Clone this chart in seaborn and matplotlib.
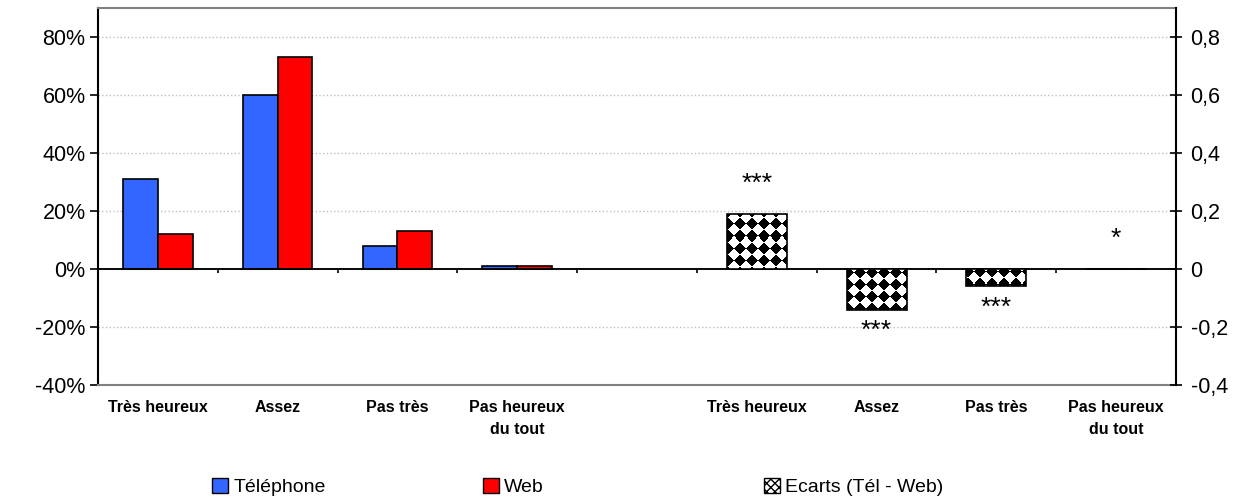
import numpy as np
import pandas as pd
import seaborn as sns
import matplotlib.pyplot as plt
from matplotlib.patches import Patch

# data
reponses = ['Très heureux', 'Assez', 'Pas très', 'Pas heureux\ndu tout']
telephone = [0.31, 0.60, 0.08, 0.012]
web = [0.12, 0.73, 0.13, 0.012]
ecarts = [0.19, -0.14, -0.06, 0.0]
signif = ['***', '***', '***', '*']

# 9 slots: 4 modes, one blank, 4 ecarts
left_slots = reponses
right_slots = [r + ' ' for r in reponses]
slots = left_slots + ['  '] + right_slots

sns.set_style('white')
plt.rcParams['font.family'] = ['Liberation Sans', 'DejaVu Sans']
plt.rcParams['text.color'] = 'black'
plt.rcParams['xtick.color'] = 'black'
plt.rcParams['ytick.color'] = 'black'
plt.rcParams['xtick.labelcolor'] = 'black'
plt.rcParams['ytick.labelcolor'] = 'black'

fig = plt.figure(figsize=(12.46, 5), dpi=100)
ax = fig.add_axes([98 / 1246, 115 / 500, 1078 / 1246, 377 / 500])

df_mode = pd.DataFrame({
    'cat': left_slots * 2,
    'mode': ['Téléphone'] * 4 + ['Web'] * 4,
    'val': telephone + web,
})
sns.barplot(data=df_mode, x='cat', y='val', hue='mode', order=slots,
            palette={'Téléphone': '#3366FF', 'Web': '#FF0000'}, saturation=1,
            width=0.58, edgecolor='black', linewidth=1.2, errorbar=None,
            legend=False, ax=ax)

ax2 = ax.twinx()
df_ecart = pd.DataFrame({'cat': right_slots, 'val': ecarts})
sns.barplot(data=df_ecart, x='cat', y='val', order=slots, color='white',
            saturation=1, width=0.5, edgecolor='black', linewidth=1.2,
            errorbar=None, ax=ax2)

# diamond checker pattern inside the ecart bars
W, H = 1078, 377
yy, xx = np.mgrid[0:H, 0:W]
checker = (((xx + yy) // 12 + (xx - yy) // 12) % 2).astype(float)
for p in list(ax2.patches):
    p.set_facecolor('none')
    p.set_zorder(3)
    im = ax2.imshow(checker, cmap='gray', vmin=0, vmax=1, extent=(0, 1, 0, 1),
                    transform=ax2.transAxes, interpolation='nearest',
                    aspect='auto', zorder=2.5)
    im.set_clip_path(p)

for i, (v, s) in enumerate(zip(ecarts, signif)):
    y = v + 0.105 if v >= 0 else v - 0.075
    ax2.text(5 + i, y, s, ha='center', va='center', fontsize=19, color='black')

yticks = np.arange(-0.4, 0.81, 0.2)
for a in (ax, ax2):
    a.set_ylim(-0.4, 0.9)
    a.set_xlim(-0.5, 8.5)
    a.set_xlabel('')
    a.set_ylabel('')
    a.set_yticks(yticks)

ax.set_yticklabels([f'{round(v * 100):d}%' for v in yticks])
ax2.set_yticklabels(['0' if abs(v) < 1e-9 else f'{v:.1f}'.replace('.', ',') for v in yticks])
ax.set_xticks(range(9))
ax.set_xticklabels(reponses + [''] + reponses, fontsize=11.5, fontweight='bold',
                   linespacing=1.55)

ax.tick_params(axis='y', direction='out', length=6, width=1.2, pad=3,
               labelsize=15.5, left=True, colors='black')
ax.tick_params(axis='x', length=0, pad=11, colors='black')
ax2.tick_params(axis='y', direction='inout', length=9, width=1.2, pad=6,
                labelsize=15.5, right=True, colors='black')

ax.set_axisbelow(True)
ax.yaxis.grid(True, color='#BFBFBF', linestyle=':', linewidth=1)
ax.axhline(0, color='black', linewidth=1.2, zorder=4)

# small category ticks on the zero line
secax = ax.secondary_xaxis(0.4 / 1.3)
secax.set_xticks(np.arange(0.5, 8, 1))
secax.set_xticklabels([])
secax.tick_params(axis='x', direction='out', length=3, width=1.2, colors='black')
secax.spines['bottom'].set_linewidth(1.2)
secax.spines['bottom'].set_color('black')

ax.spines['left'].set_color('black')
ax.spines['left'].set_linewidth(1.5)
for name in ('top', 'bottom'):
    ax.spines[name].set_color('#808080')
    ax.spines[name].set_linewidth(1.5)
ax.spines['right'].set_visible(False)
for name in ('left', 'top', 'bottom'):
    ax2.spines[name].set_visible(False)
ax2.spines['right'].set_color('black')
ax2.spines['right'].set_linewidth(1.5)

handles = [Patch(facecolor='#3366FF', edgecolor='black'),
           Patch(facecolor='#FF0000', edgecolor='black'),
           Patch(facecolor='white', edgecolor='black', hatch='xxxx')]
labels = ['Téléphone', 'Web', 'Ecarts (Tél - Web)']
for h, lab, x in zip(handles, labels, [212, 483, 764]):
    fig.legend([h], [lab], loc='center left', bbox_to_anchor=(x / 1246, 0.026),
               frameon=False, handlelength=0.8, handleheight=0.8,
               handletextpad=0.3, fontsize=14, borderpad=0, borderaxespad=0,
               labelcolor='black')

fig.savefig('out.png', dpi=100)
